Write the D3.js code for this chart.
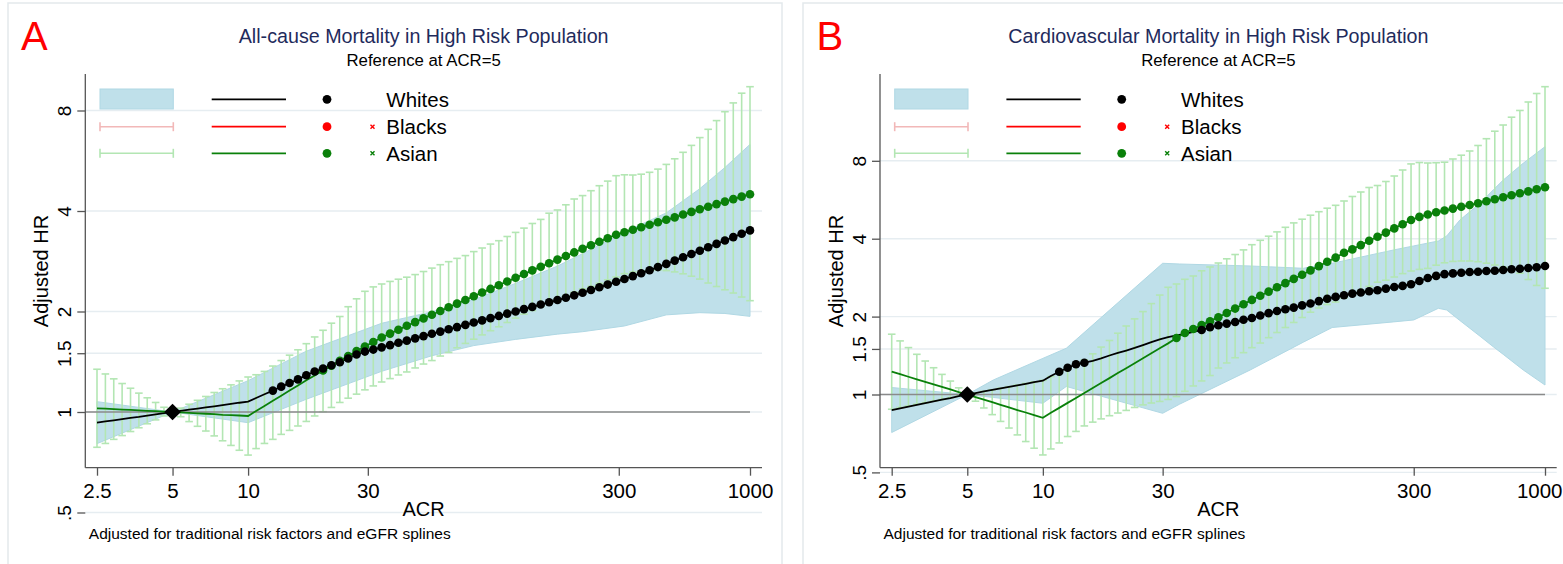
<!DOCTYPE html>
<html>
<head>
<meta charset="utf-8">
<script src="https://cdn.jsdelivr.net/npm/d3@7"></script>
<style>
  html, body { margin: 0; padding: 0; background: #fff; }
  svg { display: block; font-family: "Liberation Sans", Arial, Helvetica, sans-serif; }
</style>
</head>
<body>
<svg id="chart" width="1563" height="564"></svg>
<script>
// ACR grid shared by both panels (mg/g)
const acr = [2.5, 2.7, 2.915, 3.148, 3.4, 3.671, 3.964, 4.281, 4.622, 5,
  5.39, 5.82, 6.285, 6.787, 7.329, 7.914, 8.546, 9.228, 10, 10.76,
  11.62, 12.55, 13.55, 14.63, 15.8, 17.06, 18.42, 19.89, 21.48, 23.2,
  25.05, 27.05, 29.21, 31.54, 34.06, 36.78, 39.72, 42.89, 46.31, 50.01,
  54, 58.32, 62.97, 68, 73.43, 79.29, 85.62, 92.46, 99.82, 107.8,
  116.4, 125.7, 135.7, 146.6, 158.3, 170.9, 184.6, 199.3, 215.2, 232.4,
  251, 271, 292.7, 316, 341.3, 368.5, 397.9, 429.7, 464, 501.1,
  541.1, 584.3, 630.9, 681.3, 735.7, 794.4, 857.8, 926.3, 1000];

const xTickValues = [2.5, 5, 10, 30, 300, 1000];
const yTickValues = [0.5, 1, 1.5, 2, 4, 8];
const yTickLabels = [".5", "1", "1.5", "2", "4", "8"];
const raceLabels = ["Whites", "Blacks", "Asian"];
const subtitle = "Reference at ACR=5";
const footnote = "Adjusted for traditional risk factors and eGFR splines";

// ---- Panel A: all-cause mortality ----
const whitesA = [0.929, 0.937, 0.944, 0.952, 0.960, 0.967, 0.976, 0.984, 0.992, 1,
  1.008, 1.016, 1.024, 1.032, 1.040, 1.049, 1.057, 1.066, 1.074, 1.101,
  1.130, 1.159, 1.191, 1.221, 1.252, 1.289, 1.322, 1.350, 1.381, 1.409,
  1.446, 1.487, 1.517, 1.538, 1.562, 1.586, 1.612, 1.636, 1.662, 1.688,
  1.715, 1.741, 1.769, 1.796, 1.824, 1.853, 1.881, 1.911, 1.940, 1.971,
  2.001, 2.033, 2.065, 2.098, 2.131, 2.164, 2.198, 2.236, 2.277, 2.320,
  2.363, 2.408, 2.455, 2.503, 2.553, 2.605, 2.657, 2.717, 2.777, 2.841,
  2.907, 2.973, 3.042, 3.114, 3.188, 3.264, 3.341, 3.420, 3.499];
const asianA = [1.026, 1.023, 1.020, 1.017, 1.015, 1.011, 1.008, 1.006, 1.003, 1,
  0.997, 0.994, 0.991, 0.988, 0.985, 0.981, 0.979, 0.976, 0.973, 1.007,
  1.043, 1.080, 1.119, 1.159, 1.201, 1.244, 1.287, 1.331, 1.376, 1.424,
  1.471, 1.522, 1.571, 1.621, 1.671, 1.717, 1.764, 1.812, 1.859, 1.907,
  1.956, 2.007, 2.059, 2.112, 2.165, 2.221, 2.279, 2.337, 2.398, 2.460,
  2.523, 2.589, 2.656, 2.722, 2.791, 2.861, 2.933, 3.006, 3.082, 3.160,
  3.237, 3.316, 3.395, 3.456, 3.516, 3.577, 3.639, 3.703, 3.764, 3.827,
  3.905, 3.975, 4.047, 4.120, 4.195, 4.268, 4.342, 4.418, 4.492];
const asianLoA = [0.784, 0.805, 0.828, 0.850, 0.874, 0.897, 0.922, 0.947, 0.973, 1,
  0.968, 0.936, 0.906, 0.877, 0.848, 0.820, 0.794, 0.768, 0.743, 0.777,
  0.805, 0.828, 0.857, 0.881, 0.908, 0.937, 0.973, 1.002, 1.032, 1.068,
  1.100, 1.131, 1.165, 1.197, 1.230, 1.259, 1.291, 1.318, 1.355, 1.392,
  1.426, 1.471, 1.508, 1.557, 1.605, 1.652, 1.702, 1.752, 1.800, 1.854,
  1.911, 1.964, 2.013, 2.070, 2.116, 2.180, 2.233, 2.285, 2.339, 2.380,
  2.431, 2.489, 2.537, 2.596, 2.628, 2.648, 2.661, 2.663, 2.652, 2.628,
  2.594, 2.551, 2.501, 2.434, 2.376, 2.323, 2.272, 2.210, 2.155];
const asianHiA = [1.343, 1.300, 1.257, 1.217, 1.178, 1.139, 1.103, 1.068, 1.033, 1,
  1.027, 1.055, 1.084, 1.113, 1.144, 1.174, 1.206, 1.239, 1.273, 1.293,
  1.323, 1.373, 1.426, 1.480, 1.536, 1.602, 1.678, 1.757, 1.845, 1.932,
  2.067, 2.183, 2.299, 2.370, 2.418, 2.461, 2.499, 2.534, 2.580, 2.635,
  2.698, 2.762, 2.820, 2.885, 2.941, 3.023, 3.099, 3.184, 3.259, 3.355,
  3.451, 3.555, 3.670, 3.775, 3.940, 4.028, 4.175, 4.345, 4.448, 4.601,
  4.762, 4.916, 5.103, 5.134, 5.127, 5.156, 5.224, 5.340, 5.516, 5.734,
  5.996, 6.289, 6.636, 7.027, 7.462, 7.934, 8.430, 9.014, 9.427];
// Whites 95% CI band outline
const bandAcrA = [2.5, 5, 10, 17.06, 34.06, 54, 79.29, 116.4, 170.9, 215.2, 316, 464, 630.9, 794.4, 1000];
const bandLoA = [0.804, 1, 0.929, 1.092, 1.324, 1.474, 1.581, 1.650, 1.711, 1.740, 1.810, 1.954, 1.984, 1.973, 1.934];
const bandHiA = [1.074, 1, 1.241, 1.521, 1.844, 1.996, 2.171, 2.428, 2.735, 2.980, 3.461, 3.948, 4.665, 5.399, 6.332];
// ACR ranges where markers are shown
const whitesDotsA = [[12, 1000]];
const asianDotsA = [[19, 1000]];

// ---- Panel B: cardiovascular mortality ----
const whitesB = [0.871, 0.884, 0.898, 0.912, 0.926, 0.940, 0.955, 0.969, 0.985, 1,
  1.013, 1.028, 1.042, 1.056, 1.071, 1.085, 1.100, 1.116, 1.131, 1.179,
  1.225, 1.269, 1.308, 1.327, 1.350, 1.380, 1.415, 1.447, 1.479, 1.514,
  1.553, 1.595, 1.634, 1.665, 1.691, 1.716, 1.747, 1.775, 1.818, 1.851,
  1.879, 1.906, 1.944, 1.975, 2.020, 2.063, 2.102, 2.134, 2.167, 2.210,
  2.247, 2.296, 2.345, 2.383, 2.417, 2.454, 2.478, 2.507, 2.530, 2.566,
  2.603, 2.628, 2.668, 2.745, 2.820, 2.873, 2.919, 2.938, 2.956, 2.974,
  2.982, 3.001, 3.009, 3.028, 3.047, 3.063, 3.082, 3.101, 3.138];
const asianB = [1.225, 1.198, 1.171, 1.145, 1.120, 1.094, 1.070, 1.046, 1.022, 1,
  0.977, 0.955, 0.934, 0.912, 0.892, 0.871, 0.852, 0.833, 0.813, 0.850,
  0.888, 0.928, 0.970, 1.013, 1.060, 1.108, 1.157, 1.210, 1.264, 1.321,
  1.381, 1.443, 1.509, 1.576, 1.653, 1.729, 1.791, 1.856, 1.920, 1.988,
  2.065, 2.148, 2.233, 2.320, 2.409, 2.498, 2.596, 2.694, 2.797, 2.904,
  3.017, 3.135, 3.257, 3.381, 3.528, 3.637, 3.778, 3.926, 4.072, 4.223,
  4.384, 4.551, 4.724, 4.856, 4.961, 5.059, 5.141, 5.228, 5.313, 5.398,
  5.486, 5.584, 5.680, 5.782, 5.891, 5.991, 6.093, 6.208, 6.320];
const asianLoB = [0.877, 0.891, 0.903, 0.917, 0.930, 0.943, 0.957, 0.972, 0.985, 1,
  0.942, 0.887, 0.836, 0.787, 0.742, 0.698, 0.658, 0.620, 0.584, 0.616,
  0.650, 0.688, 0.720, 0.756, 0.782, 0.805, 0.828, 0.848, 0.868, 0.891,
  0.912, 0.927, 0.940, 0.957, 0.982, 1.029, 1.079, 1.128, 1.184, 1.266,
  1.324, 1.387, 1.451, 1.517, 1.581, 1.658, 1.736, 1.815, 1.898, 1.984,
  2.080, 2.159, 2.227, 2.277, 2.362, 2.452, 2.525, 2.617, 2.716, 2.765,
  2.845, 2.932, 3.001, 3.044, 3.071, 3.160, 3.228, 3.268, 3.280, 3.280,
  3.260, 3.217, 3.165, 3.104, 3.028, 2.943, 2.782, 2.638, 2.573];
const asianHiB = [1.710, 1.611, 1.518, 1.430, 1.347, 1.269, 1.196, 1.127, 1.061, 1,
  1.013, 1.028, 1.043, 1.058, 1.072, 1.087, 1.103, 1.119, 1.134, 1.173,
  1.215, 1.251, 1.307, 1.359, 1.436, 1.525, 1.617, 1.725, 1.840, 1.960,
  2.091, 2.245, 2.422, 2.596, 2.673, 2.787, 2.871, 3.006, 3.110, 3.222,
  3.345, 3.475, 3.621, 3.792, 3.944, 4.090, 4.250, 4.427, 4.604, 4.758,
  4.930, 5.086, 5.247, 5.384, 5.594, 5.823, 6.061, 6.309, 6.421, 6.654,
  6.988, 7.371, 7.781, 7.878, 7.844, 7.864, 7.901, 8.130, 8.409, 8.729,
  9.167, 9.738, 10.41, 11.00, 11.79, 12.52, 13.50, 14.56, 15.47];
const bandAcrB = [2.5, 5, 6.35, 10, 12.4, 30, 35, 67, 109, 142, 249, 300, 376, 406, 458, 551, 622, 682, 819, 1000];
const bandLoB = [0.713, 1, 0.974, 0.925, 1.074, 0.846, 0.917, 1.244, 1.593, 1.815, 1.908, 1.941, 2.153, 2.121, 1.932, 1.680, 1.530, 1.429, 1.244, 1.088];
const bandHiB = [1.064, 1, 1.138, 1.379, 1.509, 3.214, 3.194, 3.138, 3.074, 3.214, 3.617, 3.751, 3.919, 4.097, 4.724, 5.481, 6.175, 6.744, 7.829, 9.070];
const whitesDotsB = [[11, 15], [41, 1000]];
const asianDotsB = [[33, 1000]];

// ---- drawing ----
const C = {
  band: "#bfe0ea", bandEdge: "#b0d8e4",
  ciGreen: "#b3e6b3", ciPink: "#f2b8b8",
  green: "#0a800a", red: "#ff0000", black: "#000000",
  grid: "#e6edf1", axis: "#555555", ref: "#8a8a8a",
  title: "#1f2b5c", frame: "#e3e9ec"
};

const panels = [
  {
    letter: "A", title: "All-cause Mortality in High Risk Population",
    whites: whitesA, asian: asianA, asianLo: asianLoA, asianHi: asianHiA,
    bandAcr: bandAcrA, bandLo: bandLoA, bandHi: bandHiA,
    whitesDots: whitesDotsA, asianDots: asianDotsA,
    layout: { frame: [8, 3, 782, 568], axisX: 85.3, plotRight: 762, xRange: [97, 750], yRange: [512.5, 110.5], letterX: 21 }
  },
  {
    letter: "B", title: "Cardiovascular Mortality in High Risk Population",
    whites: whitesB, asian: asianB, asianLo: asianLoB, asianHi: asianHiB,
    bandAcr: bandAcrB, bandLo: bandLoB, bandHi: bandHiB,
    whitesDots: whitesDotsB, asianDots: asianDotsB,
    layout: { frame: [803, 3, 1566, 568], axisX: 880, plotRight: 1556.7, xRange: [891.7, 1545], yRange: [472.4, 160.8], letterX: 816.5 }
  }
];

const svg = d3.select("#chart");
const inRanges = (v, ranges) => ranges.some(r => v >= r[0] && v <= r[1]);
const AXIS_Y = 467.7, AXIS_TOP = 74;
const PAGE_W = 1563;

function drawPanel(p) {
  const L = p.layout;
  const g = svg.append("g");
  const x = d3.scaleLog().domain([2.5, 1000]).range(L.xRange);
  const y = d3.scaleLog().domain([0.5, 8]).range(L.yRange);
  const cx = (L.axisX + L.plotRight) / 2;

  g.append("rect")
    .attr("x", L.frame[0]).attr("y", L.frame[1])
    .attr("width", L.frame[2] - L.frame[0]).attr("height", L.frame[3] - L.frame[1])
    .attr("fill", "#fff").attr("stroke", C.frame).attr("stroke-width", 1.5);

  g.append("text").attr("x", L.letterX).attr("y", 49.5)
    .attr("font-size", 40).attr("fill", C.red).text(p.letter);
  g.append("text").attr("x", cx).attr("y", 43.3).attr("text-anchor", "middle")
    .attr("font-size", 19.7).attr("fill", C.title).text(p.title);
  g.append("text").attr("x", cx).attr("y", 66).attr("text-anchor", "middle")
    .attr("font-size", 16.8).attr("fill", "#000").text(subtitle);

  // horizontal gridlines
  g.append("g").selectAll("line").data(yTickValues).join("line")
    .attr("x1", L.axisX).attr("x2", L.plotRight)
    .attr("y1", d => y(d)).attr("y2", d => y(d))
    .attr("stroke", C.grid).attr("stroke-width", 1.4);

  // Whites confidence band
  const band = p.bandAcr.map((a, i) => ({ a, lo: p.bandLo[i], hi: p.bandHi[i] }));
  g.append("path").datum(band)
    .attr("d", d3.area().x(d => x(d.a)).y0(d => y(d.lo)).y1(d => y(d.hi)))
    .attr("fill", C.band).attr("stroke", C.bandEdge).attr("stroke-width", 1);

  const pts = acr.map((a, i) => ({ a, w: p.whites[i], s: p.asian[i], lo: p.asianLo[i], hi: p.asianHi[i] }));

  // Asian confidence intervals (range caps)
  const bars = g.append("g").attr("stroke", C.ciGreen).attr("stroke-width", 1.6);
  bars.selectAll("line.stem").data(pts).join("line").attr("class", "stem")
    .attr("x1", d => x(d.a)).attr("x2", d => x(d.a))
    .attr("y1", d => y(d.lo)).attr("y2", d => y(d.hi));
  ["lo", "hi"].forEach(k => {
    bars.selectAll("line.cap-" + k).data(pts).join("line").attr("class", "cap-" + k)
      .attr("x1", d => x(d.a) - 3.8).attr("x2", d => x(d.a) + 3.8)
      .attr("y1", d => y(d[k])).attr("y2", d => y(d[k]));
  });

  // reference line at HR = 1
  g.append("line").attr("x1", L.axisX).attr("x2", x(1000))
    .attr("y1", y(1)).attr("y2", y(1))
    .attr("stroke", C.ref).attr("stroke-width", 1.6);

  // estimate lines
  const mkLine = key => d3.line().x(d => x(d.a)).y(d => y(d[key]));
  g.append("path").datum(pts).attr("d", mkLine("w"))
    .attr("fill", "none").attr("stroke", C.black).attr("stroke-width", 1.8);
  g.append("path").datum(pts).attr("d", mkLine("s"))
    .attr("fill", "none").attr("stroke", C.green).attr("stroke-width", 1.8);

  // markers
  g.append("g").selectAll("circle").data(pts.filter(d => inRanges(d.a, p.asianDots))).join("circle")
    .attr("cx", d => x(d.a)).attr("cy", d => y(d.s)).attr("r", 4.3).attr("fill", C.green);
  g.append("g").selectAll("circle").data(pts.filter(d => inRanges(d.a, p.whitesDots))).join("circle")
    .attr("cx", d => x(d.a)).attr("cy", d => y(d.w)).attr("r", 4.3).attr("fill", C.black);

  // reference point
  g.append("path").attr("d", d3.symbol(d3.symbolSquare, 140)())
    .attr("transform", `translate(${x(5)},${y(1)}) rotate(45)`).attr("fill", C.black);

  // x axis
  const xa = g.append("g").attr("transform", `translate(0,${AXIS_Y})`)
    .call(d3.axisBottom(x).tickValues(xTickValues).tickFormat(d3.format("~g")).tickSize(8));
  xa.select(".domain").remove();
  xa.selectAll(".tick line").attr("stroke", C.axis).attr("stroke-width", 1.3);
  xa.selectAll(".tick text").attr("y", 30.8).attr("dy", null)
    .attr("font-size", 20.5).attr("fill", "#000").attr("font-family", null);
  // keep a label that would run past the page edge inside it
  xa.selectAll(".tick text").each(function (d) {
    const box = this.getBBox();
    const right = x(d) + box.x + box.width;
    if (right > PAGE_W - 1) d3.select(this).attr("x", PAGE_W - 1 - right);
  });
  g.append("line").attr("x1", L.axisX).attr("x2", L.plotRight)
    .attr("y1", AXIS_Y).attr("y2", AXIS_Y).attr("stroke", C.axis).attr("stroke-width", 1.3);

  // y axis
  const ya = g.append("g").attr("transform", `translate(${L.axisX},0)`)
    .call(d3.axisLeft(y).tickValues(yTickValues).tickFormat((d, i) => yTickLabels[i]).tickSize(8));
  ya.select(".domain").remove();
  ya.selectAll(".tick line").attr("stroke", C.axis).attr("stroke-width", 1.3);
  ya.selectAll(".tick text").attr("x", null).attr("dy", null)
    .attr("text-anchor", "middle").attr("transform", "translate(-14.5,0) rotate(-90)")
    .attr("font-size", 19).attr("fill", "#000").attr("font-family", null);
  g.append("line").attr("x1", L.axisX).attr("x2", L.axisX)
    .attr("y1", AXIS_TOP).attr("y2", AXIS_Y).attr("stroke", C.axis).attr("stroke-width", 1.3);

  g.append("text").attr("transform", `translate(${L.axisX - 37.5},271) rotate(-90)`)
    .attr("text-anchor", "middle").attr("font-size", 20).text("Adjusted HR");
  g.append("text").attr("x", cx).attr("y", 516).attr("text-anchor", "middle")
    .attr("font-size", 20).text("ACR");
  g.append("text").attr("x", L.axisX + 3.5).attr("y", 538.5)
    .attr("font-size", 15.5).text(footnote);

  // legend
  const lg = g.append("g");
  const rows = [99.3, 126.7, 153.3];
  const ax = L.axisX;
  const lineColors = [C.black, C.red, C.green];
  lg.append("rect").attr("x", ax + 14.7).attr("y", 89).attr("width", 73.3).attr("height", 20)
    .attr("fill", C.band).attr("stroke", C.bandEdge).attr("stroke-width", 1);
  [[rows[1], C.ciPink], [rows[2], C.ciGreen]].forEach(([ry, col]) => {
    const x1 = ax + 14.7, x2 = ax + 88;
    lg.append("line").attr("x1", x1).attr("x2", x2).attr("y1", ry).attr("y2", ry).attr("stroke", col).attr("stroke-width", 1.6);
    [x1, x2].forEach(cxp => lg.append("line").attr("x1", cxp).attr("x2", cxp)
      .attr("y1", ry - 4.5).attr("y2", ry + 4.5).attr("stroke", col).attr("stroke-width", 1.6));
  });
  rows.forEach((ry, i) => {
    lg.append("line").attr("x1", ax + 126.4).attr("x2", ax + 200.7).attr("y1", ry).attr("y2", ry)
      .attr("stroke", lineColors[i]).attr("stroke-width", 1.8);
    lg.append("circle").attr("cx", ax + 241.7).attr("cy", ry).attr("r", 4.4).attr("fill", lineColors[i]);
    if (i > 0) {
      const mx = ax + 287.2;
      lg.append("path").attr("d", `M${mx - 2},${ry - 2}L${mx + 2},${ry + 2}M${mx - 2},${ry + 2}L${mx + 2},${ry - 2}`)
        .attr("stroke", lineColors[i]).attr("stroke-width", 1.4);
    }
    lg.append("text").attr("x", ax + 301).attr("y", ry + 7.3).attr("font-size", 20.5).text(raceLabels[i]);
  });
}

panels.forEach(drawPanel);
</script>
</body>
</html>
